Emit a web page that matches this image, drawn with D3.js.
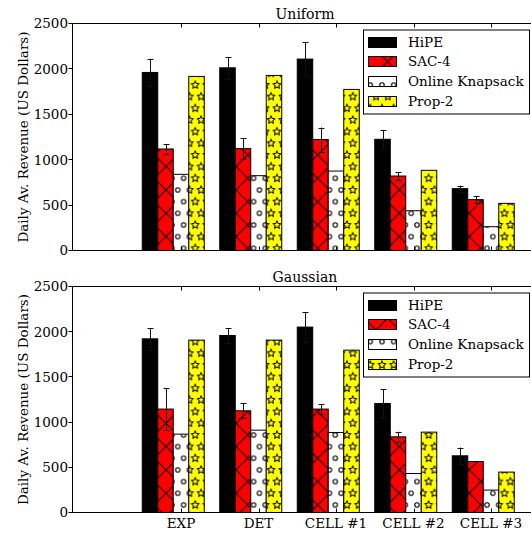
<!DOCTYPE html>
<html><head><meta charset="utf-8">
<script src="https://cdn.jsdelivr.net/npm/d3@7"></script>
<style>body{margin:0;background:#fff}svg{display:block}text{font-family:"DejaVu Serif",serif;fill:#000}</style>
</head><body><svg id="c" width="531" height="533"></svg>
<script>
const categories = ["EXP","DET","CELL #1","CELL #2","CELL #3"];
const seriesNames = ["HiPE","SAC-4","Online Knapsack","Prop-2"];
const yTicks = [0,500,1000,1500,2000,2500];
const panelTitles = ["Uniform","Gaussian"];
const yLabel = "Daily Av. Revenue (US Dollars)";

const uniformHiPE = [1961,2012,2108,1225,681];
const uniformHiPEErr = [151,118,184,100,33];
const uniformSAC = [1118,1122,1222,820,560];
const uniformSACErr = [55,117,132,44,40];
const uniformOK = [839,824,875,438,262];
const uniformProp = [1917,1928,1774,883,519];

const gaussHiPE = [1921,1958,2051,1206,627];
const gaussHiPEErr = [119,82,166,155,92];
const gaussSAC = [1144,1125,1144,837,564];
const gaussSACErr = [228,81,55,56,0];
const gaussOK = [867,911,885,431,248];
const gaussProp = [1907,1907,1796,889,447];

const panels = [
  {title: panelTitles[0], top: 23.5, bottom: 250.5, showX: false,
   values: [uniformHiPE, uniformSAC, uniformOK, uniformProp],
   errs: [uniformHiPEErr, uniformSACErr, null, null]},
  {title: panelTitles[1], top: 286.5, bottom: 512.5, showX: true,
   values: [gaussHiPE, gaussSAC, gaussOK, gaussProp],
   errs: [gaussHiPEErr, gaussSACErr, null, null]}
];

const svg = d3.select("#c");
const defs = svg.append("defs");
const FS = 13.5;
const left = 72.5, right = 537.5;
const x = d3.scaleLinear().domain([-1.4, 4.6]).range([left, right]);
const barW = 0.2;

// hatch patterns (global, userSpaceOnUse)
const cw = 11.67, ch = 23.33, ox = 2.7, oy = 3.3;
function lattice(g, draw) {
  [[0,0],[cw,0],[0,ch],[cw,ch],[cw/2,ch/2]].forEach(p => draw(g, p[0], p[1]));
}
// X hatch
{
  const d = ch;
  const p = defs.append("pattern").attr("id","hx").attr("patternUnits","userSpaceOnUse")
    .attr("width", d).attr("height", d).attr("x", ox).attr("y", oy);
  p.append("rect").attr("width", d).attr("height", d).attr("fill", "#ff0000");
  p.append("path").attr("d", `M-2,-2L${d+2},${d+2}M-2,${d+2}L${d+2},-2`)
    .attr("stroke","#000").attr("stroke-width",1).attr("fill","none");
}
// circles
{
  const p = defs.append("pattern").attr("id","ho").attr("patternUnits","userSpaceOnUse")
    .attr("width", cw).attr("height", ch).attr("x", ox).attr("y", oy);
  p.append("rect").attr("width", cw).attr("height", ch).attr("fill", "#fff");
  lattice(p, (g, cx, cy) => g.append("circle").attr("cx", cx).attr("cy", cy).attr("r", 2.2)
    .attr("fill","none").attr("stroke","#000").attr("stroke-width",1.1));
}
// stars
function starPath(cx, cy, R) {
  const pts = [];
  for (let i = 0; i < 10; i++) {
    const r = i % 2 === 0 ? R : R * 0.5;
    const a = -Math.PI/2 + i * Math.PI / 5;
    pts.push([cx + r*Math.cos(a), cy + r*Math.sin(a)]);
  }
  return "M" + pts.map(p => p[0].toFixed(2)+","+p[1].toFixed(2)).join("L") + "Z";
}
{
  const p = defs.append("pattern").attr("id","hs").attr("patternUnits","userSpaceOnUse")
    .attr("width", cw).attr("height", ch).attr("x", ox).attr("y", oy);
  p.append("rect").attr("width", cw).attr("height", ch).attr("fill", "#ffff00");
  lattice(p, (g, cx, cy) => g.append("path").attr("d", starPath(cx, cy, 3.9))
    .attr("fill","none").attr("stroke","#000").attr("stroke-width",1));
}
const fills = ["#000", "url(#hx)", "url(#ho)", "url(#hs)"];

panels.forEach(pn => {
  const y = d3.scaleLinear().domain([0, 2500]).range([pn.bottom, pn.top]);
  const g = svg.append("g");

  // bars
  pn.values.forEach((vals, s) => {
    g.append("g").selectAll("rect").data(vals).join("rect")
      .attr("x", (v, i) => x(i - 0.5 + s*barW))
      .attr("width", x(barW) - x(0))
      .attr("y", v => y(v))
      .attr("height", v => y(0) - y(v))
      .attr("fill", fills[s])
      .attr("stroke", "#000").attr("stroke-width", 1);
  });
  // error bars
  pn.errs.forEach((errs, s) => {
    if (!errs) return;
    const vals = pn.values[s];
    const eg = g.append("g").attr("stroke", "#111").attr("stroke-width", 1).attr("fill","none");
    errs.forEach((e, i) => {
      if (!e) return;
      const cx = Math.round(x(i - 0.5 + s*barW + barW/2)) + 0.5;
      const y1 = y(vals[i] + e), y0 = y(vals[i] - e);
      eg.append("path").attr("d",
        `M${cx},${y0}L${cx},${y1}M${cx-3},${Math.round(y1)+0.5}L${cx+3},${Math.round(y1)+0.5}M${cx-3},${Math.round(y0)+0.5}L${cx+3},${Math.round(y0)+0.5}`);
    });
  });

  // spines
  g.append("path").attr("d", `M${right},${pn.top}L${left},${pn.top}L${left},${pn.bottom}L${right},${pn.bottom}`)
    .attr("fill","none").attr("stroke","#000").attr("stroke-width",1);

  // x ticks (inward, top and bottom)
  categories.forEach((c, i) => {
    const tx = Math.round(x(i)) + 0.5;
    g.append("line").attr("x1", tx).attr("x2", tx).attr("y1", pn.top).attr("y2", pn.top + 4)
      .attr("stroke","#000");
    g.append("line").attr("x1", tx).attr("x2", tx).attr("y1", pn.bottom).attr("y2", pn.bottom - 4)
      .attr("stroke","#000");
    if (pn.showX) {
      g.append("text").attr("x", x(i)).attr("y", pn.bottom + 15)
        .attr("text-anchor","middle").attr("font-size", FS).text(c);
    }
  });

  // y ticks
  yTicks.forEach(t => {
    const ty = Math.round(y(t) - 0.5) + 0.5;
    g.append("line").attr("x1", left - 4).attr("x2", left).attr("y1", ty).attr("y2", ty)
      .attr("stroke","#000");
    g.append("text").attr("x", left - 4.5).attr("y", y(t)).attr("dy", "0.36em")
      .attr("text-anchor","end").attr("font-size", FS).text(t);
  });

  // y label
  g.append("text").attr("transform", `translate(27.5,${(pn.top + pn.bottom)/2}) rotate(-90)`)
    .attr("text-anchor","middle").attr("font-size", FS).text(yLabel);

  // title
  g.append("text").attr("x", (left + right)/2).attr("y", pn.top - 4.5)
    .attr("text-anchor","middle").attr("font-size", 14).text(pn.title);

  // legend
  const lx = 363.5, ly = pn.top + 6.5, lw = 166, lh = 84;
  const lg = g.append("g");
  lg.append("rect").attr("x", lx).attr("y", ly).attr("width", lw).attr("height", lh)
    .attr("fill","#fff").attr("stroke","#000").attr("stroke-width",1);
  seriesNames.forEach((nm, s) => {
    const cy = ly + 11.7 + s * 19.7;
    lg.append("rect").attr("x", 368.5).attr("y", Math.round(cy - 5) + 0.5).attr("width", 28).attr("height", 10)
      .attr("fill", fills[s]).attr("stroke","#000").attr("stroke-width",1);
    lg.append("text").attr("x", 408).attr("y", cy).attr("dy","0.36em")
      .attr("font-size", FS).text(nm);
  });
});
</script>
</body></html>
